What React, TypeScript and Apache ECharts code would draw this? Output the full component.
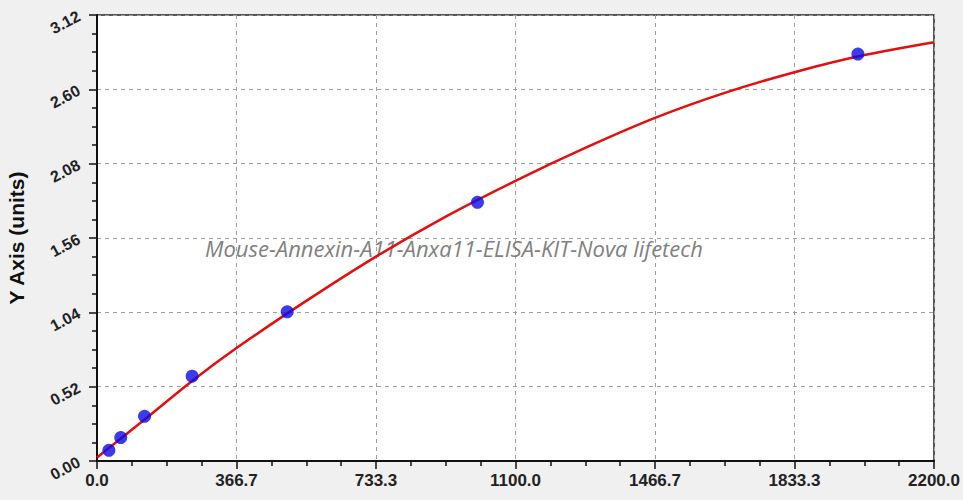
import React, { useEffect, useRef } from "react";
import * as echarts from "echarts";

const pointX = [31.25, 62.5, 125, 250, 500, 1000, 2000];
const pointY = [0.075, 0.164, 0.313, 0.593, 1.044, 1.81, 2.847];

const curveX = [0, 125, 250, 366.7, 550, 733.3, 916.7, 1100, 1283.3, 1466.7, 1650, 1833.3, 2016.7, 2200];
const curveY = [0.024, 0.29, 0.56, 0.79, 1.12, 1.43, 1.71, 1.96, 2.19, 2.4, 2.575, 2.72, 2.84, 2.93];

const xTickLabels = ["0.0", "366.7", "733.3", "1100.0", "1466.7", "1833.3", "2200.0"];
const yTickLabels = ["0.00", "0.52", "1.04", "1.56", "2.08", "2.60", "3.12"];

const watermark = "Mouse-Annexin-A11-Anxa11-ELISA-KIT-Nova lifetech";

export default function App() {
  const ref = useRef<HTMLDivElement>(null);
  useEffect(() => {
    if (!ref.current) return;
    const chart = echarts.init(ref.current, null, { renderer: "svg" });
    const xStep = 2200 / 6;
    chart.setOption({
      animation: false,
      backgroundColor: "#f0f0f0",
      grid: {
        left: 97,
        right: 29,
        top: 15,
        bottom: 39,
        containLabel: false,
        outerBoundsMode: "none",
        show: true,
        backgroundColor: "#ffffff",
        borderColor: "#222",
        borderWidth: 1.5,
      },
      graphic: [
        {
          type: "text",
          x: 454,
          y: 248,
          z: 1,
          style: {
            text: watermark,
            fill: "#808080",
            font: "italic 22px 'Open Sans'",
            textAlign: "center",
            textVerticalAlign: "middle",
          },
        },
      ],
      xAxis: {
        type: "value",
        min: 0,
        max: 2200,
        interval: xStep,
        axisLine: { show: true, lineStyle: { color: "#111", width: 2 } },
        axisTick: { show: true, length: 8, lineStyle: { color: "#111", width: 1.5 } },
        minorTick: { show: true, splitNumber: 4, length: 5, lineStyle: { color: "#111", width: 1.5 } },
        splitLine: { show: true, lineStyle: { color: "#a0a0a0", type: [4, 4], width: 1 } },
        axisLabel: {
          margin: 11,
          color: "#222",
          fontWeight: "bold",
          fontSize: 17,
          fontFamily: "Liberation Sans",
          formatter: (v: number) => {
            const i = Math.round(v / xStep);
            return xTickLabels[i] ?? "";
          },
        },
      },
      yAxis: {
        type: "value",
        min: 0,
        max: 3.12,
        interval: 0.52,
        name: "Y Axis (units)",
        nameLocation: "middle",
        nameGap: 70,
        nameTextStyle: { fontWeight: "bold", fontSize: 21, color: "#111", fontFamily: "Liberation Sans" },
        axisLine: { show: true, lineStyle: { color: "#111", width: 2 } },
        axisTick: { show: true, length: 8, lineStyle: { color: "#111", width: 1.5 } },
        minorTick: { show: true, splitNumber: 4, length: 5, lineStyle: { color: "#111", width: 1.5 } },
        splitLine: { show: true, lineStyle: { color: "#a0a0a0", type: [4, 4], width: 1 } },
        axisLabel: {
          margin: 18,
          rotate: 28,
          color: "#222",
          fontWeight: "bold",
          fontSize: 16,
          fontFamily: "Liberation Sans",
          formatter: (v: number) => {
            const i = Math.round(v / 0.52);
            return yTickLabels[i] ?? "";
          },
        },
      },
      series: [
        {
          type: "line",
          data: curveX.map((x, i) => [x, curveY[i]]),
          smooth: 0.3,
          showSymbol: false,
          symbol: "none",
          lineStyle: { color: "#e60d0d", width: 2.5 },
          z: 3,
        },
        {
          type: "scatter",
          data: pointX.map((x, i) => [x, pointY[i]]),
          symbol: "circle",
          symbolSize: 13,
          itemStyle: { color: "#0a0ae8" },
          z: 4,
        },
      ],
    });
    return () => chart.dispose();
  }, []);
  return (
    <div
      ref={ref}
      style={{ position: "absolute", left: 0, top: 0, width: 963, height: 500 }}
    />
  );
}
